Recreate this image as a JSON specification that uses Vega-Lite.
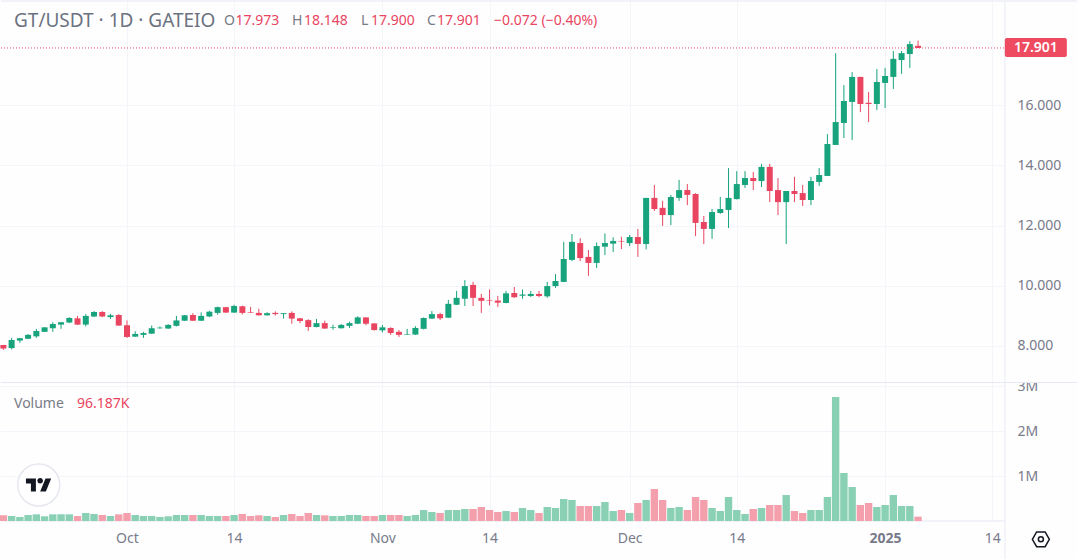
{
  "$schema": "https://vega.github.io/schema/vega-lite/v6.json",
  "width": 1005,
  "height": 521,
  "autosize": {"type": "pad"},
  "padding": 0,
  "background": "#fefeff",
  "config": {
    "font": "Noto Sans",
    "view": {"stroke": null},
    "axis": {"labelFont": "Noto Sans"}
  },
  "datasets": {
    "candles": [
      {"date":"2024-09-16","open":8.03,"high":8.03,"low":7.87,"close":7.92,"volume":126000},
      {"date":"2024-09-17","open":7.93,"high":8.27,"low":7.89,"close":8.20,"volume":111000},
      {"date":"2024-09-18","open":8.18,"high":8.26,"low":8.11,"close":8.26,"volume":89000},
      {"date":"2024-09-19","open":8.24,"high":8.40,"low":8.23,"close":8.37,"volume":133000},
      {"date":"2024-09-20","open":8.32,"high":8.57,"low":8.27,"close":8.50,"volume":148000},
      {"date":"2024-09-21","open":8.47,"high":8.62,"low":8.47,"close":8.62,"volume":104000},
      {"date":"2024-09-22","open":8.59,"high":8.79,"low":8.47,"close":8.73,"volume":148000},
      {"date":"2024-09-23","open":8.71,"high":8.80,"low":8.57,"close":8.79,"volume":148000},
      {"date":"2024-09-24","open":8.78,"high":8.96,"low":8.76,"close":8.93,"volume":148000},
      {"date":"2024-09-25","open":8.92,"high":9.00,"low":8.70,"close":8.71,"volume":111000},
      {"date":"2024-09-26","open":8.71,"high":9.06,"low":8.65,"close":9.00,"volume":178000},
      {"date":"2024-09-27","open":8.98,"high":9.16,"low":8.96,"close":9.13,"volume":156000},
      {"date":"2024-09-28","open":9.13,"high":9.16,"low":8.96,"close":8.98,"volume":133000},
      {"date":"2024-09-29","open":8.96,"high":9.07,"low":8.90,"close":9.02,"volume":111000},
      {"date":"2024-09-30","open":9.03,"high":9.06,"low":8.67,"close":8.68,"volume":148000},
      {"date":"2024-10-01","open":8.69,"high":8.85,"low":8.27,"close":8.30,"volume":178000},
      {"date":"2024-10-02","open":8.31,"high":8.49,"low":8.30,"close":8.40,"volume":133000},
      {"date":"2024-10-03","open":8.37,"high":8.47,"low":8.27,"close":8.43,"volume":111000},
      {"date":"2024-10-04","open":8.41,"high":8.68,"low":8.40,"close":8.59,"volume":111000},
      {"date":"2024-10-05","open":8.59,"high":8.65,"low":8.57,"close":8.61,"volume":89000},
      {"date":"2024-10-06","open":8.58,"high":8.73,"low":8.57,"close":8.70,"volume":104000},
      {"date":"2024-10-07","open":8.67,"high":9.00,"low":8.65,"close":8.85,"volume":133000},
      {"date":"2024-10-08","open":8.84,"high":9.03,"low":8.83,"close":9.02,"volume":133000},
      {"date":"2024-10-09","open":9.03,"high":9.09,"low":8.83,"close":8.84,"volume":133000},
      {"date":"2024-10-10","open":8.84,"high":9.12,"low":8.83,"close":9.00,"volume":133000},
      {"date":"2024-10-11","open":8.98,"high":9.17,"low":8.96,"close":9.14,"volume":111000},
      {"date":"2024-10-12","open":9.10,"high":9.31,"low":9.04,"close":9.29,"volume":111000},
      {"date":"2024-10-13","open":9.29,"high":9.30,"low":9.10,"close":9.11,"volume":111000},
      {"date":"2024-10-14","open":9.11,"high":9.37,"low":9.10,"close":9.33,"volume":133000},
      {"date":"2024-10-15","open":9.32,"high":9.34,"low":9.05,"close":9.10,"volume":156000},
      {"date":"2024-10-16","open":9.12,"high":9.30,"low":9.10,"close":9.10,"volume":111000},
      {"date":"2024-10-17","open":9.10,"high":9.24,"low":9.01,"close":9.02,"volume":126000},
      {"date":"2024-10-18","open":9.02,"high":9.12,"low":9.01,"close":9.09,"volume":111000},
      {"date":"2024-10-19","open":9.10,"high":9.15,"low":9.01,"close":9.06,"volume":89000},
      {"date":"2024-10-20","open":9.06,"high":9.09,"low":8.91,"close":9.09,"volume":133000},
      {"date":"2024-10-21","open":9.10,"high":9.15,"low":8.74,"close":8.91,"volume":156000},
      {"date":"2024-10-22","open":8.92,"high":8.93,"low":8.76,"close":8.83,"volume":111000},
      {"date":"2024-10-23","open":8.86,"high":8.89,"low":8.50,"close":8.63,"volume":178000},
      {"date":"2024-10-24","open":8.63,"high":8.90,"low":8.62,"close":8.76,"volume":133000},
      {"date":"2024-10-25","open":8.76,"high":8.84,"low":8.57,"close":8.58,"volume":126000},
      {"date":"2024-10-26","open":8.61,"high":8.71,"low":8.54,"close":8.63,"volume":111000},
      {"date":"2024-10-27","open":8.59,"high":8.73,"low":8.58,"close":8.70,"volume":111000},
      {"date":"2024-10-28","open":8.67,"high":8.81,"low":8.60,"close":8.76,"volume":133000},
      {"date":"2024-10-29","open":8.74,"high":8.99,"low":8.73,"close":8.95,"volume":133000},
      {"date":"2024-10-30","open":8.95,"high":8.95,"low":8.69,"close":8.74,"volume":111000},
      {"date":"2024-10-31","open":8.75,"high":8.76,"low":8.51,"close":8.53,"volume":111000},
      {"date":"2024-11-01","open":8.52,"high":8.70,"low":8.45,"close":8.62,"volume":133000},
      {"date":"2024-11-02","open":8.60,"high":8.62,"low":8.37,"close":8.43,"volume":133000},
      {"date":"2024-11-03","open":8.47,"high":8.53,"low":8.30,"close":8.37,"volume":133000},
      {"date":"2024-11-04","open":8.38,"high":8.57,"low":8.37,"close":8.40,"volume":111000},
      {"date":"2024-11-05","open":8.38,"high":8.66,"low":8.37,"close":8.60,"volume":133000},
      {"date":"2024-11-06","open":8.57,"high":8.95,"low":8.55,"close":8.93,"volume":244000},
      {"date":"2024-11-07","open":8.91,"high":9.16,"low":8.90,"close":9.06,"volume":200000},
      {"date":"2024-11-08","open":9.06,"high":9.10,"low":8.86,"close":8.92,"volume":178000},
      {"date":"2024-11-09","open":8.94,"high":9.53,"low":8.93,"close":9.40,"volume":244000},
      {"date":"2024-11-10","open":9.37,"high":9.83,"low":9.36,"close":9.60,"volume":244000},
      {"date":"2024-11-11","open":9.57,"high":10.19,"low":9.33,"close":9.99,"volume":267000},
      {"date":"2024-11-12","open":10.03,"high":10.13,"low":9.33,"close":9.60,"volume":267000},
      {"date":"2024-11-13","open":9.60,"high":9.73,"low":9.10,"close":9.50,"volume":311000},
      {"date":"2024-11-14","open":9.53,"high":9.88,"low":9.35,"close":9.51,"volume":244000},
      {"date":"2024-11-15","open":9.51,"high":9.66,"low":9.30,"close":9.44,"volume":200000},
      {"date":"2024-11-16","open":9.43,"high":9.83,"low":9.42,"close":9.75,"volume":222000},
      {"date":"2024-11-17","open":9.76,"high":9.96,"low":9.60,"close":9.62,"volume":200000},
      {"date":"2024-11-18","open":9.67,"high":9.88,"low":9.57,"close":9.71,"volume":289000},
      {"date":"2024-11-19","open":9.66,"high":9.83,"low":9.63,"close":9.73,"volume":244000},
      {"date":"2024-11-20","open":9.73,"high":9.83,"low":9.62,"close":9.66,"volume":178000},
      {"date":"2024-11-21","open":9.65,"high":10.13,"low":9.60,"close":9.99,"volume":311000},
      {"date":"2024-11-22","open":9.99,"high":10.39,"low":9.93,"close":10.16,"volume":289000},
      {"date":"2024-11-23","open":10.13,"high":11.46,"low":10.12,"close":10.89,"volume":489000},
      {"date":"2024-11-24","open":10.86,"high":11.72,"low":10.82,"close":11.46,"volume":467000},
      {"date":"2024-11-25","open":11.42,"high":11.58,"low":10.82,"close":10.92,"volume":333000},
      {"date":"2024-11-26","open":10.96,"high":11.19,"low":10.33,"close":10.76,"volume":333000},
      {"date":"2024-11-27","open":10.76,"high":11.44,"low":10.59,"close":11.32,"volume":333000},
      {"date":"2024-11-28","open":11.30,"high":11.74,"low":11.02,"close":11.42,"volume":422000},
      {"date":"2024-11-29","open":11.40,"high":11.61,"low":11.12,"close":11.49,"volume":222000},
      {"date":"2024-11-30","open":11.49,"high":11.63,"low":11.22,"close":11.47,"volume":244000},
      {"date":"2024-12-01","open":11.42,"high":11.69,"low":11.32,"close":11.62,"volume":178000},
      {"date":"2024-12-02","open":11.62,"high":11.89,"low":10.96,"close":11.39,"volume":400000},
      {"date":"2024-12-03","open":11.39,"high":12.92,"low":11.21,"close":12.92,"volume":467000},
      {"date":"2024-12-04","open":12.92,"high":13.35,"low":12.49,"close":12.55,"volume":711000},
      {"date":"2024-12-05","open":12.59,"high":12.82,"low":11.99,"close":12.35,"volume":467000},
      {"date":"2024-12-06","open":12.35,"high":13.02,"low":12.02,"close":12.95,"volume":289000},
      {"date":"2024-12-07","open":12.92,"high":13.52,"low":12.82,"close":13.18,"volume":311000},
      {"date":"2024-12-08","open":13.18,"high":13.38,"low":12.68,"close":13.02,"volume":244000},
      {"date":"2024-12-09","open":13.05,"high":13.08,"low":11.65,"close":12.09,"volume":533000},
      {"date":"2024-12-10","open":12.12,"high":12.32,"low":11.39,"close":11.89,"volume":467000},
      {"date":"2024-12-11","open":11.89,"high":12.55,"low":11.56,"close":12.45,"volume":289000},
      {"date":"2024-12-12","open":12.42,"high":12.95,"low":12.39,"close":12.55,"volume":222000},
      {"date":"2024-12-13","open":12.52,"high":13.91,"low":11.92,"close":12.92,"volume":533000},
      {"date":"2024-12-14","open":12.88,"high":13.81,"low":12.87,"close":13.38,"volume":244000},
      {"date":"2024-12-15","open":13.35,"high":13.81,"low":13.25,"close":13.58,"volume":156000},
      {"date":"2024-12-16","open":13.58,"high":13.78,"low":13.18,"close":13.48,"volume":267000},
      {"date":"2024-12-17","open":13.48,"high":14.05,"low":13.28,"close":13.95,"volume":289000},
      {"date":"2024-12-18","open":13.95,"high":14.05,"low":12.78,"close":13.15,"volume":356000},
      {"date":"2024-12-19","open":13.18,"high":13.58,"low":12.35,"close":12.78,"volume":356000},
      {"date":"2024-12-20","open":12.78,"high":13.15,"low":11.39,"close":13.15,"volume":578000},
      {"date":"2024-12-21","open":13.15,"high":13.62,"low":12.78,"close":13.05,"volume":222000},
      {"date":"2024-12-22","open":13.08,"high":13.35,"low":12.65,"close":12.85,"volume":178000},
      {"date":"2024-12-23","open":12.85,"high":13.62,"low":12.68,"close":13.48,"volume":244000},
      {"date":"2024-12-24","open":13.45,"high":13.91,"low":13.32,"close":13.68,"volume":244000},
      {"date":"2024-12-25","open":13.65,"high":15.04,"low":13.65,"close":14.71,"volume":533000},
      {"date":"2024-12-26","open":14.68,"high":17.73,"low":14.68,"close":15.44,"volume":2756000},
      {"date":"2024-12-27","open":15.41,"high":16.67,"low":14.91,"close":16.14,"volume":1067000},
      {"date":"2024-12-28","open":16.11,"high":17.10,"low":14.84,"close":16.94,"volume":756000},
      {"date":"2024-12-29","open":16.94,"high":16.94,"low":15.77,"close":16.04,"volume":356000},
      {"date":"2024-12-30","open":16.08,"high":16.44,"low":15.44,"close":16.04,"volume":400000},
      {"date":"2024-12-31","open":16.04,"high":17.20,"low":15.84,"close":16.77,"volume":311000},
      {"date":"2025-01-01","open":16.74,"high":17.24,"low":15.91,"close":16.97,"volume":356000},
      {"date":"2025-01-02","open":16.94,"high":17.80,"low":16.54,"close":17.54,"volume":578000},
      {"date":"2025-01-03","open":17.50,"high":17.80,"low":17.04,"close":17.73,"volume":333000},
      {"date":"2025-01-04","open":17.70,"high":18.13,"low":17.24,"close":18.03,"volume":333000},
      {"date":"2025-01-05","open":17.973,"high":18.148,"low":17.9,"close":17.901,"volume":96187}
    ]
  },
  "encoding": {
    "x": {
      "field": "date",
      "type": "temporal",
      "title": null,
      "scale": {"type": "utc", "padding": 0, "domain": ["2024-09-15T14:10:00Z", "2025-01-15T13:12:00Z"]},
      "axis": {
        "values": ["2024-10-01", "2024-10-14", "2024-11-01", "2024-11-14", "2024-12-01", "2024-12-14", "2025-01-01", "2025-01-14"],
        "labelExpr": "utcdate(datum.value) == 14 ? '14' : (utcmonth(datum.value) == 0 ? '2025' : utcFormat(datum.value, '%b'))",
        "labelFontWeight": {"condition": {"test": "utcmonth(datum.value) == 0 && utcdate(datum.value) == 1", "value": "bold"}, "value": "normal"},
        "labelFontSize": 14,
        "labelColor": "#787b8a",
        "labelPadding": 10,
        "labelFlush": false,
        "ticks": false,
        "domain": false,
        "grid": true,
        "gridColor": "#f4f5fa",
        "minExtent": 38,
        "maxExtent": 38
      }
    }
  },
  "layer": [
    {
      "layer": [
        {
          "data": {"name": "candles"},
          "mark": {"type": "rule", "strokeWidth": 1},
          "encoding": {
            "y": {
              "field": "low",
              "type": "quantitative",
              "title": null,
              "scale": {"domain": [2.186, 19.495], "nice": false, "zero": false},
              "axis": {
                "orient": "right",
                "values": [8, 10, 12, 14, 16],
                "format": ".3f",
                "labelFontSize": 14,
                "labelColor": "#787b8a",
                "labelPadding": 12,
                "ticks": false,
                "domain": false,
                "grid": true,
                "gridColor": "#f4f5fa",
                "minExtent": 72,
                "maxExtent": 72
              }
            },
            "y2": {"field": "high"},
            "color": {"condition": {"test": "datum.close >= datum.open", "value": "#17a37c"}, "value": "#e94560"}
          }
        },
        {
          "data": {"name": "candles"},
          "mark": {"type": "bar", "size": 6},
          "encoding": {
            "y": {"field": "open", "type": "quantitative"},
            "y2": {"field": "close"},
            "color": {"condition": {"test": "datum.close >= datum.open", "value": "#17a37c"}, "value": "#e94560"}
          }
        },
        {
          "data": {"values": [{"date": "2025-01-19T22:00:00Z", "low": 6.771, "high": 7.037}]},
          "mark": {"type": "bar", "size": 72, "color": "#fefeff"},
          "encoding": {
            "y": {"field": "low", "type": "quantitative"},
            "y2": {"field": "high"}
          }
        },
        {
          "data": {"values": [
            {"date": "2024-09-15T17:00:00Z", "end": "2025-01-24T07:00:00Z", "price": 6.787},
            {"date": "2024-09-15T17:00:00Z", "end": "2025-01-24T07:00:00Z", "price": 19.462},
            {"date": "2024-09-15T17:00:00Z", "end": "2025-01-15T13:12:00Z", "price": 2.186}
          ]},
          "mark": {"type": "rule", "color": "#e6e8f3", "strokeWidth": 1},
          "encoding": {
            "y": {"field": "price", "type": "quantitative"},
            "x2": {"field": "end"}
          }
        },
        {
          "data": {"values": [{"date": "2025-01-15T13:12:00Z", "low": 0.924, "high": 19.462}]},
          "mark": {"type": "rule", "color": "#e9ebf4", "strokeWidth": 1},
          "encoding": {
            "y": {"field": "low", "type": "quantitative"},
            "y2": {"field": "high"}
          }
        },
        {
          "data": {"values": [{"date": "2024-09-15T17:00:00Z", "end": "2025-01-15T13:12:00Z", "price": 17.901}]},
          "mark": {"type": "rule", "color": "#e94560", "strokeWidth": 1, "strokeDash": [1, 2]},
          "encoding": {
            "y": {"field": "price", "type": "quantitative"},
            "x2": {"field": "end"}
          }
        },
        {
          "data": {"values": [{"date": "2025-01-19T07:00:00Z", "low": 17.601, "high": 18.233}]},
          "mark": {"type": "bar", "size": 62, "color": "#ee4a60", "cornerRadius": 2},
          "encoding": {
            "y": {"field": "low", "type": "quantitative"},
            "y2": {"field": "high"}
          }
        },
        {
          "data": {"values": [{"date": "2025-01-19T07:00:00Z", "price": 17.901, "label": "17.901"}]},
          "mark": {"type": "text", "color": "#ffffff", "fontSize": 14, "fontWeight": 600, "align": "center", "baseline": "middle"},
          "encoding": {
            "y": {"field": "price", "type": "quantitative"},
            "text": {"field": "label"}
          }
        },
        {
          "data": {"values": [{"date": "2024-09-17T07:00:00Z", "price": 18.797, "label": "GT/USDT · 1D · GATEIO"}]},
          "mark": {"type": "text", "color": "#6b7280", "fontSize": 19, "align": "left", "baseline": "middle"},
          "encoding": {
            "y": {"field": "price", "type": "quantitative"},
            "text": {"field": "label"}
          }
        },
        {
          "data": {"values": [
            {"date": "2024-10-12T18:30:00Z", "price": 18.797, "label": "O", "kind": "muted"},
            {"date": "2024-10-14T04:00:00Z", "price": 18.797, "label": "17.973", "kind": "down"},
            {"date": "2024-10-21T00:30:00Z", "price": 18.797, "label": "H", "kind": "muted"},
            {"date": "2024-10-22T11:30:00Z", "price": 18.797, "label": "18.148", "kind": "down"},
            {"date": "2024-10-29T09:30:00Z", "price": 18.797, "label": "L", "kind": "muted"},
            {"date": "2024-10-30T14:40:00Z", "price": 18.797, "label": "17.900", "kind": "down"},
            {"date": "2024-11-06T09:50:00Z", "price": 18.797, "label": "C", "kind": "muted"},
            {"date": "2024-11-07T15:00:00Z", "price": 18.797, "label": "17.901", "kind": "down"},
            {"date": "2024-11-14T13:00:00Z", "price": 18.797, "label": "−0.072 (−0.40%)", "kind": "down"},
            {"date": "2024-09-17T07:00:00Z", "price": 6.073, "label": "Volume", "kind": "muted"},
            {"date": "2024-09-24T22:20:00Z", "price": 6.073, "label": "96.187K", "kind": "down"}
          ]},
          "mark": {"type": "text", "fontSize": 14, "align": "left", "baseline": "middle"},
          "encoding": {
            "y": {"field": "price", "type": "quantitative"},
            "text": {"field": "label"},
            "color": {"field": "kind", "type": "nominal", "legend": null, "scale": {"domain": ["muted", "down"], "range": ["#787b86", "#e94560"]}}
          }
        },
        {
          "data": {"values": [{"date": "2024-09-20T07:00:00Z", "price": 3.382}]},
          "mark": {"type": "point", "shape": "circle", "size": 1764, "filled": true, "fill": "#ffffff", "stroke": "#e6e8ef", "strokeWidth": 1.5, "opacity": 1},
          "encoding": {"y": {"field": "price", "type": "quantitative"}}
        },
        {
          "data": {"values": [{"date": "2024-09-20T07:00:00Z", "price": 3.382}]},
          "mark": {"type": "point", "shape": "M-0.222 0.5H-0.611V-0.111H-1V-0.5H-0.222ZM0.556 0.5H0.111L0.528 -0.5H0.972ZM-0.111 -0.333A0.222 0.222 0 1 0 0.333 -0.333A0.222 0.222 0 1 0 -0.111 -0.333Z", "size": 655, "filled": true, "fill": "#131722", "opacity": 1, "strokeWidth": 0},
          "encoding": {"y": {"field": "price", "type": "quantitative"}}
        },
        {
          "data": {"values": [{"date": "2025-01-19T21:40:00Z", "price": 1.578}]},
          "mark": {"type": "point", "shape": "M-1 0L-0.5 -0.87L0.5 -0.87L1 0L0.5 0.87L-0.5 0.87Z", "size": 289, "filled": false, "stroke": "#131722", "strokeWidth": 1.5, "opacity": 1},
          "encoding": {"y": {"field": "price", "type": "quantitative"}}
        },
        {
          "data": {"values": [{"date": "2025-01-19T21:40:00Z", "price": 1.578}]},
          "mark": {"type": "point", "shape": "circle", "size": 25, "filled": false, "stroke": "#131722", "strokeWidth": 1.5, "opacity": 1},
          "encoding": {"y": {"field": "price", "type": "quantitative"}}
        }
      ]
    },
    {
      "data": {"name": "candles"},
      "mark": {"type": "bar", "size": 7.4, "clip": true},
      "encoding": {
        "y": {
          "field": "volume",
          "type": "quantitative",
          "title": null,
          "scale": {"domain": [0, 11577778], "nice": false},
          "axis": {
            "orient": "right",
            "values": [1000000, 2000000, 3000000],
            "labelExpr": "format(datum.value / 1000000, 'd') + 'M'",
            "labelFontSize": 14,
            "labelColor": "#787b8a",
            "labelPadding": 12,
            "ticks": false,
            "domain": false,
            "grid": true,
            "gridColor": "#f4f5fa",
            "minExtent": 72,
            "maxExtent": 72
          }
        },
        "color": {"condition": {"test": "datum.close >= datum.open", "value": "#8ad0b5"}, "value": "#f4a0ac"}
      }
    }
  ],
  "resolve": {"scale": {"y": "independent"}, "axis": {"y": "independent"}}
}
